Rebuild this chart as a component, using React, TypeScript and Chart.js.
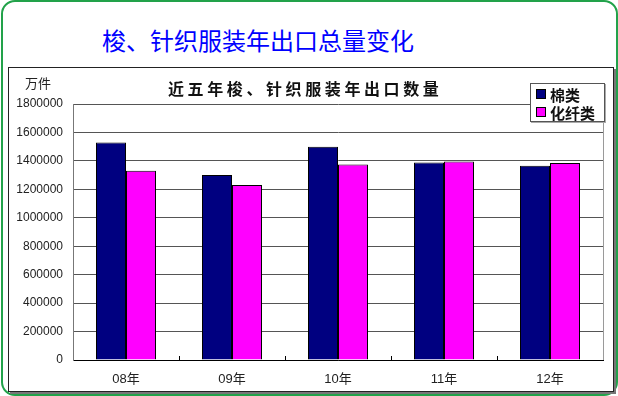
import React, { useEffect, useRef } from "react";
import { Chart, registerables } from "chart.js";

Chart.register(...registerables);

const pageTitle = "梭、针织服装年出口总量变化";
const chartTitle = "近五年梭、针织服装年出口数量";
const unitLabel = "万件";
const categories = ["08年", "09年", "10年", "11年", "12年"];
const seriesNames = ["棉类", "化纤类"];
const cottonValues = [1530000, 1300000, 1500000, 1388000, 1365000];
const chemValues = [1330000, 1230000, 1375000, 1395000, 1385000];
const seriesColors = ["#000080", "#FF00FF"];
const yMin = 0;
const yMax = 1800000;
const yStep = 200000;

const FONT = '"Liberation Sans", Arial, "Noto Sans CJK SC", sans-serif';
const CJK = '"Noto Sans CJK SC", "Liberation Sans", sans-serif';

const framePlugin = {
  id: "frame",
  afterDraw(chart: any) {
    const { ctx, chartArea, scales } = chart;
    const x = scales.x;
    ctx.save();
    // right border of plot area
    ctx.strokeStyle = "#9a9a9a";
    ctx.lineWidth = 1;
    ctx.beginPath();
    ctx.moveTo(Math.round(chartArea.right) + 0.5, chartArea.top);
    ctx.lineTo(Math.round(chartArea.right) + 0.5, chartArea.bottom);
    ctx.stroke();
    // small category tick marks pointing up
    ctx.strokeStyle = "#000";
    for (let i = 1; i < categories.length; i++) {
      const px = (x.getPixelForValue(i - 1) + x.getPixelForValue(i)) / 2;
      ctx.beginPath();
      ctx.moveTo(Math.round(px) + 0.5, chartArea.bottom);
      ctx.lineTo(Math.round(px) + 0.5, chartArea.bottom - 4);
      ctx.stroke();
    }
    ctx.restore();
  },
};

function BarChart() {
  const ref = useRef<HTMLCanvasElement | null>(null);
  useEffect(() => {
    if (!ref.current) return;
    const chart = new Chart(ref.current, {
      type: "bar",
      data: {
        labels: categories,
        datasets: [
          {
            label: seriesNames[0],
            data: cottonValues,
            backgroundColor: seriesColors[0],
            borderColor: "#000",
            borderWidth: 1,
            barPercentage: 1,
            categoryPercentage: 0.566,
          },
          {
            label: seriesNames[1],
            data: chemValues,
            backgroundColor: seriesColors[1],
            borderColor: "#000",
            borderWidth: 1,
            barPercentage: 1,
            categoryPercentage: 0.566,
          },
        ],
      },
      options: {
        responsive: false,
        animation: false,
        devicePixelRatio: 1,
        layout: { padding: { left: 0, right: 11, top: 37, bottom: 0 } },
        plugins: {
          legend: { display: false },
          title: { display: false },
          tooltip: { enabled: false },
        },
        scales: {
          x: {
            grid: { display: false, drawTicks: false },
            border: { display: true, color: "#000", width: 1 },
            ticks: {
              padding: 12,
              color: "#222",
              font: { family: FONT, size: 13 },
            },
            afterFit(scale: any) {
              scale.height = 32;
            },
          },
          y: {
            min: yMin,
            max: yMax,
            grid: { color: "#555", lineWidth: 1, drawTicks: false },
            border: { display: true, color: "#777", width: 1 },
            ticks: {
              stepSize: yStep,
              padding: 10,
              color: "#222",
              font: { family: FONT, size: 12 },
              callback: (v: any) => String(v),
            },
            afterFit(scale: any) {
              scale.width = 65;
            },
          },
        },
      },
      plugins: [framePlugin],
    });
    return () => chart.destroy();
  }, []);
  return (
    <canvas
      ref={ref}
      width={606}
      height={325}
      style={{ position: "absolute", left: 0, top: 0, width: 606, height: 325 }}
    />
  );
}

export default function App() {
  return (
    <div
      style={{
        position: "absolute",
        left: 0,
        top: 0,
        width: 618,
        height: 396,
        background: "#fff",
        overflow: "hidden",
      }}
    >
      <div
        style={{
          position: "absolute",
          left: 1,
          top: 0,
          width: 613,
          height: 392,
          border: "2px solid #22a24a",
          borderRadius: 14,
        }}
      />
      <div
        style={{
          position: "absolute",
          left: 102,
          top: 24,
          fontFamily: CJK,
          fontSize: 24,
          lineHeight: "32px",
          color: "#0000ff",
          whiteSpace: "nowrap",
        }}
      >
        {pageTitle}
      </div>
      <div
        style={{
          position: "absolute",
          left: 8,
          top: 67,
          width: 606,
          height: 325,
          border: "1px solid #222",
          boxSizing: "border-box",
          boxShadow: "2px 2px 0 #777",
          background: "#fff",
        }}
      />
      <div style={{ position: "absolute", left: 8, top: 67, width: 606, height: 325 }}>
        <BarChart />
        <div
          style={{
            position: "absolute",
            left: 160,
            top: 11,
            fontFamily: CJK,
            fontWeight: 700,
            fontSize: 16,
            letterSpacing: 3.6,
            lineHeight: "20px",
            color: "#111",
            whiteSpace: "nowrap",
          }}
        >
          {chartTitle}
        </div>
        <div
          style={{
            position: "absolute",
            left: 17,
            top: 8,
            fontFamily: CJK,
            fontSize: 13,
            lineHeight: "16px",
            color: "#222",
          }}
        >
          {unitLabel}
        </div>
        <div
          style={{
            position: "absolute",
            left: 522,
            top: 16,
            width: 75,
            height: 39,
            boxSizing: "border-box",
            border: "1px solid #555",
            background: "#fff",
            boxShadow: "1px 1px 0 #aaa",
            padding: "1px 0 0 5px",
          }}
        >
          {seriesNames.map((n, i) => (
            <div
              key={n}
              style={{
                display: "flex",
                alignItems: "center",
                height: 18,
                fontFamily: CJK,
                fontWeight: 700,
                fontSize: 15,
                color: "#111",
                whiteSpace: "nowrap",
              }}
            >
              <span
                style={{
                  display: "inline-block",
                  width: 8,
                  height: 8,
                  border: "1px solid #000",
                  background: seriesColors[i],
                  marginRight: 4,
                }}
              />
              {n}
            </div>
          ))}
        </div>
      </div>
    </div>
  );
}
